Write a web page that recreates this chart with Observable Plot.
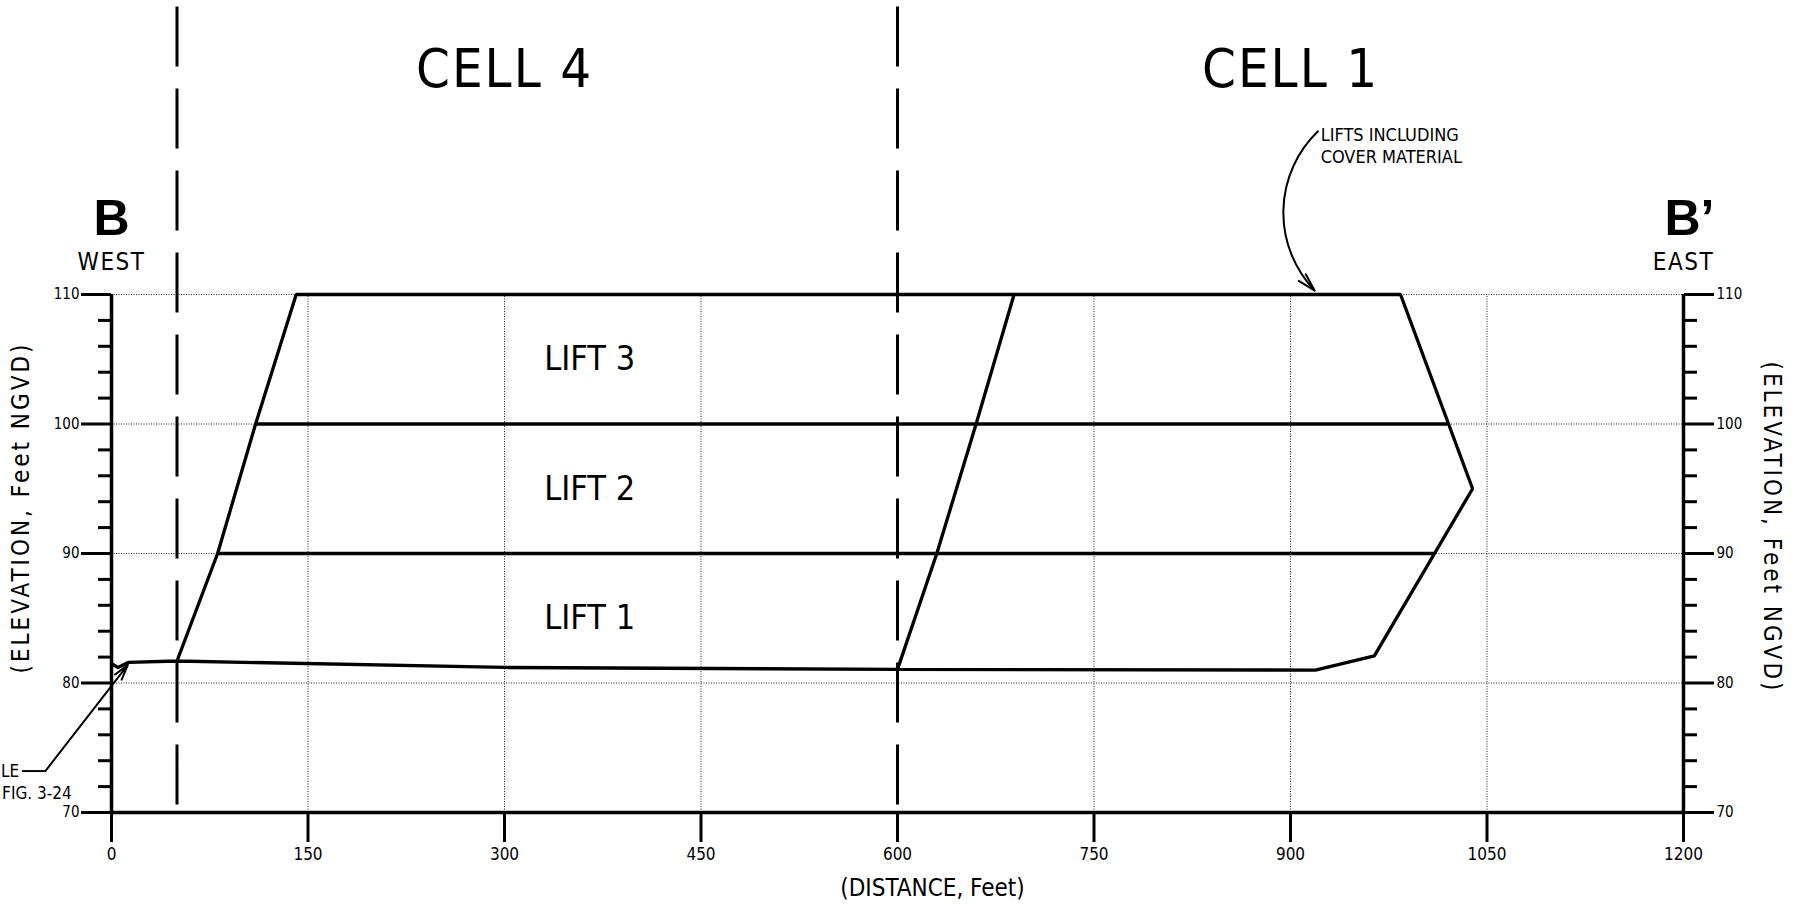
<!DOCTYPE html>
<html><head><meta charset="utf-8">
<script src="https://cdn.jsdelivr.net/npm/d3@7"></script>
<script src="https://cdn.jsdelivr.net/npm/@observablehq/plot@0.6"></script>
<style>html,body{margin:0;padding:0;background:#fff;overflow:hidden}</style>
</head><body><div id="chart"></div>
<script>
// ---- data ----
const xTicks = [0, 150, 300, 450, 600, 750, 900, 1050, 1200];
const yTicks = [70, 80, 90, 100, 110];
const yMinorTicks = [72, 74, 76, 78, 82, 84, 86, 88, 92, 94, 96, 98, 102, 104, 106, 108];
const gridX = [150, 300, 450, 750, 900, 1050];
const gridY = [80, 90, 100, 110];

const cellNames = ["CELL 4", "CELL 1"];
const cellBoundaries = [50, 600];
const cellLabelX = [300, 900];

// outer profile: base grade -> east slope -> top of lift 3 -> west slope of cell 4
const outlineX    = [0, 5, 13, 50, 300, 600, 919, 964, 1039, 984, 141, 110, 81, 50];
const outlineElev = [81.5, 81.2, 81.6, 81.7, 81.2, 81.05, 81.0, 82.1, 95, 110, 110, 100, 90, 81.7];

// west slope of cell 1
const cell1SlopeX    = [600, 630, 660, 689];
const cell1SlopeElev = [81.05, 90, 100, 110];

// lift boundaries
const liftBoundaryElev   = [90, 100];
const liftBoundaryStartX = [81, 110];
const liftBoundaryEndX   = [1010, 1020];

const liftNames = ["LIFT 1", "LIFT 2", "LIFT 3"];
const liftLabelElev = [85, 95, 105];
const liftLabelX = [365, 365, 365];

const endNames = ["B", "B\u2019"];
const endDirections = ["WEST", "EAST"];
const endX = [0, 1200];

// ---- chart ----
const FONT = '"Liberation Sans Narrow", "DejaVu Sans Condensed", "Roboto Condensed", "Liberation Sans", sans-serif';
const BOLD = '"Liberation Sans", Arial, sans-serif';
const outline = outlineX.map((x, i) => ({x, y: outlineElev[i]}));
const cell1Slope = cell1SlopeX.map((x, i) => ({x, y: cell1SlopeElev[i]}));
const idx = a => a.map((_, i) => i);

const plot = Plot.plot({
  width: 1797,
  height: 905,
  marginLeft: 111,
  marginRight: 114,
  marginTop: 294,
  marginBottom: 93,
  style: {fontFamily: FONT, background: "white", color: "black", overflow: "visible"},
  x: {domain: [0, 1200], axis: null},
  y: {domain: [70, 110], axis: null},
  marks: [
    // dotted grid
    Plot.ruleX(gridX, {y1: 70, y2: 110, stroke: "#222", strokeWidth: 1, strokeDasharray: "1,1.5"}),
    Plot.ruleY(gridY, {x1: 0, x2: 1200, stroke: "#222", strokeWidth: 1, strokeDasharray: "1,1.5"}),
    // cell boundaries (dashed)
    Plot.ruleX(cellBoundaries, {y1: 132.2, y2: 70, stroke: "black", strokeWidth: 3, strokeDasharray: "60,22"}),
    // axes
    Plot.axisY({anchor: "left", ticks: yTicks, tickSize: 30, tickPadding: 2, strokeWidth: 3, fontSize: 15, tickFormat: d => String(d), label: null}),
    Plot.axisY({anchor: "left", ticks: yMinorTicks, tickSize: 13, strokeWidth: 3, tickFormat: () => "", label: null}),
    Plot.axisY({anchor: "right", ticks: yTicks, tickSize: 30, tickPadding: 3, strokeWidth: 3, fontSize: 15, tickFormat: d => String(d), label: null}),
    Plot.axisY({anchor: "right", ticks: yMinorTicks, tickSize: 13, strokeWidth: 3, tickFormat: () => "", label: null}),
    Plot.axisX({anchor: "bottom", ticks: xTicks, tickSize: 30, tickPadding: 5, strokeWidth: 3, fontSize: 17, tickFormat: d => String(d), label: null}),
    Plot.ruleX([0, 1200], {y1: 70, y2: 110, strokeWidth: 3.5}),
    Plot.ruleY([70], {x1: 0, x2: 1200, strokeWidth: 3.5}),
    // profile
    Plot.line(outline, {x: "x", y: "y", stroke: "black", strokeWidth: 3.3, strokeLinejoin: "miter"}),
    Plot.line(cell1Slope, {x: "x", y: "y", stroke: "black", strokeWidth: 3.3}),
    Plot.ruleY(idx(liftBoundaryElev), {y: i => liftBoundaryElev[i], x1: i => liftBoundaryStartX[i], x2: i => liftBoundaryEndX[i], stroke: "black", strokeWidth: 3.3}),
    // lift labels
    Plot.text(idx(liftNames), {x: i => liftLabelX[i], y: i => liftLabelElev[i], text: i => liftNames[i], fontSize: 34}),
    // cell titles
    Plot.text(idx(cellNames), {x: i => cellLabelX[i], text: i => cellNames[i], frameAnchor: "top", lineAnchor: "middle", dy: -225, fontSize: 54}),
    // section ends
    Plot.text([0], {x: i => endX[i], text: i => endNames[i], frameAnchor: "top", lineAnchor: "middle", dy: -76, fontSize: 50, fontWeight: "bold", fontFamily: BOLD}),
    Plot.text([1], {x: i => endX[i], text: i => endNames[i], frameAnchor: "top", lineAnchor: "middle", dy: -76, dx: 6, fontSize: 50, fontWeight: "bold", fontFamily: BOLD}),
    Plot.text(idx(endDirections), {x: i => endX[i], text: i => endDirections[i], frameAnchor: "top", lineAnchor: "middle", dy: -32, fontSize: 24}),
    // axis titles
    Plot.text(["(ELEVATION, Feet NGVD)"], {frameAnchor: "left", textAnchor: "middle", lineAnchor: "middle", dx: -90, dy: -46, rotate: -90, fontSize: 24}),
    Plot.text(["(ELEVATION, Feet NGVD)"], {frameAnchor: "right", textAnchor: "middle", lineAnchor: "middle", dx: 88, dy: -26, rotate: 90, fontSize: 24}),
    Plot.text(["(DISTANCE, Feet)"], {frameAnchor: "bottom", textAnchor: "middle", lineAnchor: "middle", dx: 35, dy: 76, fontSize: 24}),
    // callout: lifts including cover material
    Plot.text(["LIFTS INCLUDING\nCOVER MATERIAL"], {x: 923, y: 123.0, textAnchor: "start", lineAnchor: "top", fontSize: 18, lineHeight: 1.2}),
    Plot.arrow([0], {x1: 921, y1: 122.6, x2: 918.5, y2: 110.3, bend: -45, strokeWidth: 2, headLength: 14, headAngle: 30}),
    // callout: bottom-left leader
    Plot.text(["LE"], {x: -70.5, y: 73.2, textAnchor: "end", fontSize: 17}),
    Plot.text(["FIG. 3-24"], {x: -83.5, y: 71.5, textAnchor: "start", fontSize: 17}),
    Plot.ruleY([73.2], {x1: -68, x2: -50.5, strokeWidth: 2}),
    Plot.arrow([0], {x1: -50.5, y1: 73.2, x2: 12.5, y2: 81.4, strokeWidth: 2, headLength: 12, headAngle: 30})
  ]
});
// wider CAD-style letter spacing for a few titles
const spacing = {"(ELEVATION, Feet NGVD)": "3px", "CELL 4": "2px", "CELL 1": "2px", "WEST": "1.5px", "EAST": "1.5px"};
d3.select(plot).selectAll("text").each(function() {
  const s = spacing[this.textContent];
  if (s) this.setAttribute("letter-spacing", s);
});
document.getElementById("chart").appendChild(plot);
</script></body></html>
